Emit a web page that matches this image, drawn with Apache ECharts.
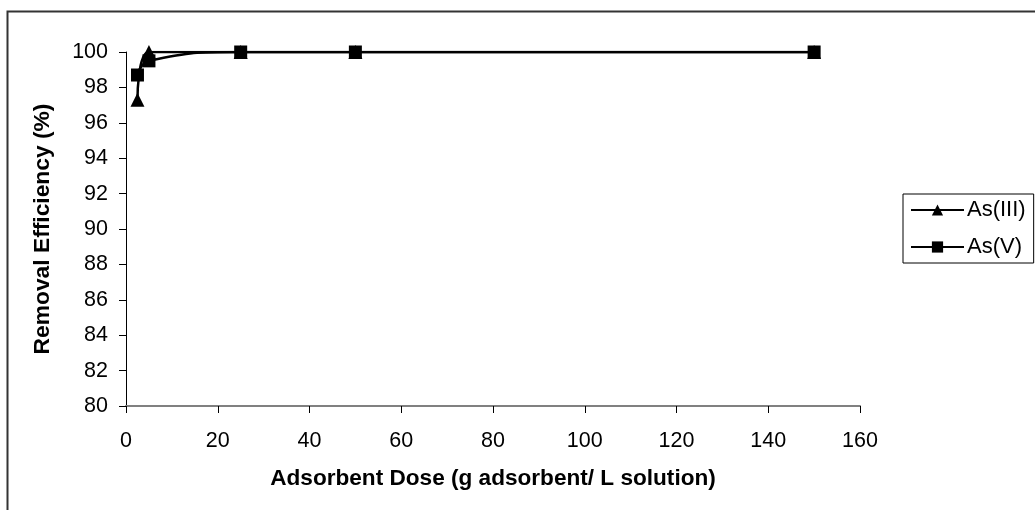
<!DOCTYPE html>
<html>
<head>
<meta charset="utf-8">
<script src="https://cdn.jsdelivr.net/npm/echarts@6/dist/echarts.min.js"></script>
<style>html,body{margin:0;padding:0;background:#fff}#c{width:1035px;height:510px}</style>
</head>
<body>
<div id="c"></div>
<script>
var doses = [2.5, 5, 25, 50, 150];
var asIII = [97.3, 100, 100, 100, 100];
var asV = [98.7, 99.5, 100, 100, 100];
var seriesNames = ['As(III)', 'As(V)'];

function pairs(xs, ys) { return xs.map(function (x, i) { return [x, ys[i]]; }); }

var chart = echarts.init(document.getElementById('c'));
var font = 'Liberation Sans, Arial, sans-serif';
chart.setOption({
  animation: false,
  backgroundColor: '#fff',
  graphic: [{
    type: 'rect', shape: { x: 7.5, y: 11.5, width: 1200, height: 700 },
    style: { fill: 'none', stroke: '#333', lineWidth: 2 }, silent: true
  }],
  grid: { left: 126, top: 52, right: 175, bottom: 104, containLabel: false },
  xAxis: {
    type: 'value', min: 0, max: 160, interval: 20,
    name: 'Adsorbent Dose (g adsorbent/ L solution)', nameLocation: 'middle', nameGap: 61,
    nameTextStyle: { fontFamily: font, fontSize: 22.6, fontWeight: 'bold', color: '#000' },
    axisLine: { show: true, lineStyle: { color: '#808080', width: 2 } },
    axisTick: { show: true, inside: false, length: 7, lineStyle: { color: '#000', width: 1 } },
    axisLabel: { fontFamily: font, fontSize: 21.5, color: '#000', margin: 24 },
    splitLine: { show: false }
  },
  yAxis: {
    type: 'value', min: 80, max: 100, interval: 2,
    name: 'Removal Efficiency (%)', nameLocation: 'middle', nameGap: 72, nameRotate: 90,
    nameTextStyle: { fontFamily: font, fontSize: 22.8, fontWeight: 'bold', color: '#000' },
    axisLine: { show: true, lineStyle: { color: '#000', width: 1 } },
    axisTick: { show: true, inside: false, length: 7, lineStyle: { color: '#000', width: 1 } },
    axisLabel: { fontFamily: font, fontSize: 21.5, color: '#000', margin: 18 },
    splitLine: { show: false }
  },
  legend: {
    orient: 'vertical', left: 903, top: 194,
    padding: [5, 8, 5, 7], itemGap: 15,
    borderColor: '#000', borderWidth: 1,
    itemWidth: 53, itemHeight: 14,
    textStyle: { fontFamily: font, fontSize: 22, color: '#000', padding: [0, 0, 0, -2] },
    data: seriesNames
  },
  series: [{
    name: seriesNames[0], type: 'line', smooth: true,
    data: pairs(doses, asIII),
    symbol: 'triangle', symbolSize: 14,
    lineStyle: { color: '#000', width: 2.5 },
    itemStyle: { color: '#000' }
  }, {
    name: seriesNames[1], type: 'line', smooth: true,
    data: pairs(doses, asV),
    symbol: 'rect', symbolSize: 13,
    lineStyle: { color: '#000', width: 2.5 },
    itemStyle: { color: '#000' }
  }]
});
</script>
</body>
</html>
